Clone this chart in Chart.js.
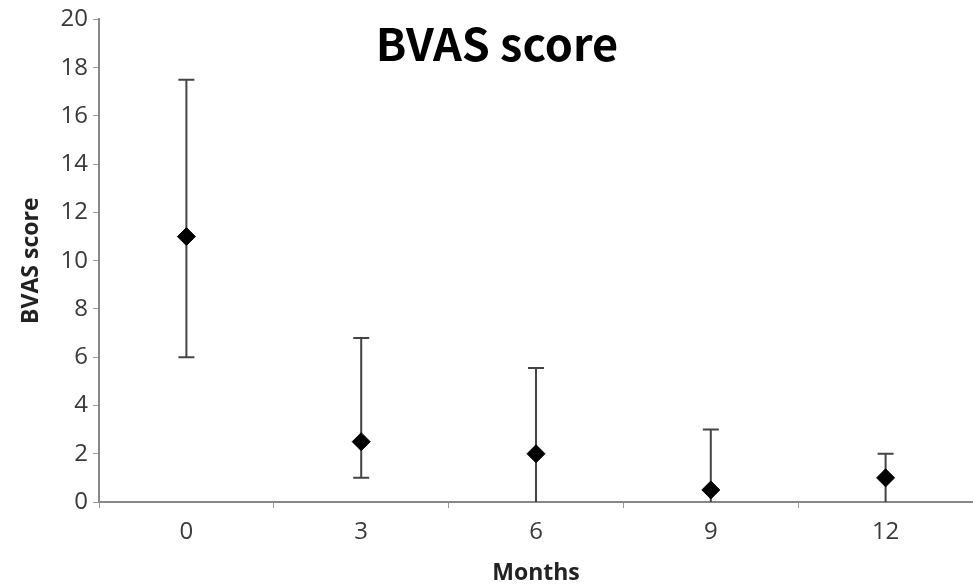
<!DOCTYPE html>
<html>
<head>
<meta charset="utf-8">
<script src="https://cdn.jsdelivr.net/npm/chart.js@4.4.1/dist/chart.umd.min.js"></script>
<style>
  html, body { margin: 0; padding: 0; background: #fff; }
  #wrap { width: 973px; height: 587px; }
</style>
</head>
<body>
<div id="wrap"><canvas id="c" width="973" height="587"></canvas></div>
<script>
// BVAS score over follow-up months: median with range bars
const months = ['0', '3', '6', '9', '12'];
const scoreMid = [11, 2.5, 2, 0.5, 1];
const scoreLow = [6, 1, 0, 0, 0];
const scoreHigh = [17.5, 6.8, 5.55, 3, 2];
const yTicks = [0, 2, 4, 6, 8, 10, 12, 14, 16, 18, 20];

const tickFont = { family: '"Open Sans", "Liberation Sans", sans-serif', size: 24 };
const axisTitleFont = { family: '"Open Sans", "Liberation Sans", sans-serif', size: 23, weight: 'bold' };

// vertical range bars with caps, drawn behind the points
const rangeBars = {
  id: 'rangeBars',
  beforeDatasetsDraw(chart) {
    const ctx = chart.ctx;
    const xs = chart.scales.x, ys = chart.scales.y;
    ctx.save();
    ctx.strokeStyle = '#444';
    ctx.lineWidth = 2;
    months.forEach((m, i) => {
      const x = xs.getPixelForValue(i);
      const yl = ys.getPixelForValue(scoreLow[i]);
      const yh = ys.getPixelForValue(scoreHigh[i]);
      ctx.beginPath();
      ctx.moveTo(x, yl); ctx.lineTo(x, yh);
      ctx.moveTo(x - 8, yh); ctx.lineTo(x + 8, yh);
      if (scoreLow[i] > 0) { ctx.moveTo(x - 8, yl); ctx.lineTo(x + 8, yl); }
      ctx.stroke();
    });
    ctx.restore();
  }
};

// heading drawn over the top of the plot area
const heading = {
  id: 'heading',
  afterDraw(chart) {
    const ctx = chart.ctx;
    ctx.save();
    ctx.fillStyle = '#000';
    ctx.font = 'bold 45px "Noto Sans CJK JP", "Noto Sans", sans-serif';
    ctx.textAlign = 'center';
    ctx.textBaseline = 'middle';
    ctx.fillText('BVAS score', 497, 44);
    ctx.restore();
  }
};

new Chart(document.getElementById('c'), {
  type: 'line',
  data: {
    labels: months,
    datasets: [{
      data: scoreMid,
      showLine: false,
      pointStyle: 'rectRot',
      pointRadius: 9,
      pointHoverRadius: 9,
      pointBackgroundColor: '#000',
      pointBorderColor: '#000',
      pointBorderWidth: 1
    }]
  },
  options: {
    responsive: false,
    animation: false,
    layout: { autoPadding: false, padding: { top: 4, right: 0, left: 18, bottom: 0 } },
    plugins: { legend: { display: false }, tooltip: { enabled: false } },
    scales: {
      x: {
        type: 'category',
        offset: true,
        grid: { display: true, drawOnChartArea: false, offset: true, tickLength: 6, color: '#999', lineWidth: 1 },
        border: { color: '#888', width: 2 },
        ticks: { color: '#3a3a3a', font: tickFont, padding: 10, maxRotation: 0 },
        title: { display: true, text: 'Months', color: '#222', font: axisTitleFont, padding: { top: 2, bottom: 0 } },
        afterFit(s) { s.height = 85; }
      },
      y: {
        min: 0, max: 20,
        afterBuildTicks(s) { s.ticks = yTicks.map(v => ({ value: v })); },
        grid: { display: true, drawOnChartArea: false, tickLength: 6, color: '#999', lineWidth: 1 },
        border: { color: '#888', width: 2 },
        ticks: { color: '#3a3a3a', font: tickFont, padding: 5 },
        title: { display: true, text: 'BVAS score', color: '#222', font: axisTitleFont, padding: { top: 0, bottom: 2 } },
        afterFit(s) { s.width = 81; }
      }
    }
  },
  plugins: [rangeBars, heading]
});
</script>
</body>
</html>
